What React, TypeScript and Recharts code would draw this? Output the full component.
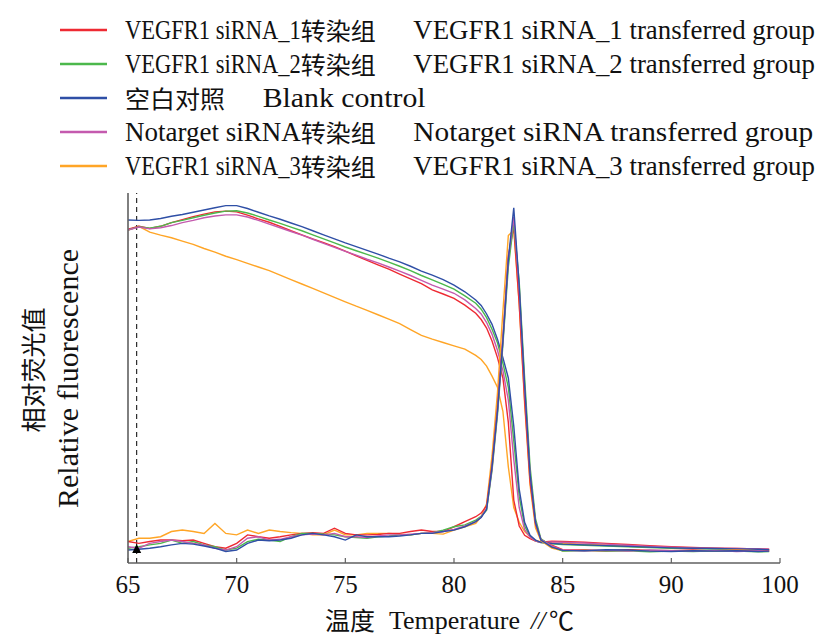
import React from "react";
import {
  LineChart,
  Line,
  XAxis,
  YAxis,
  Legend,
  ReferenceLine,
  ReferenceDot,
} from "recharts";

// temperature grid (°C)
const temperatures = [
  65, 65.5, 66, 66.5, 67, 67.5, 68, 68.5, 69, 69.5, 70, 70.5, 71, 71.5, 72, 72.5,
  73, 73.5, 74, 74.5, 75, 75.5, 76, 76.5, 77, 77.5, 78, 78.5, 79, 79.5, 80, 80.5, 81,
  81.25, 81.5, 81.75, 82, 82.25, 82.5, 82.75, 83, 83.25, 83.5, 83.75, 84,
  84.5, 85, 86, 87, 88, 89, 90, 91, 92, 93, 94, 94.5,
];

// melt curves (relative fluorescence)
const redMelt = [
  90.2, 91.0, 90.4, 91.0, 92.0, 92.8, 93.6, 94.3, 94.9, 95.1, 94.9, 94.0, 93.0, 92.1, 91.0, 89.8,
  88.7, 87.6, 86.6, 85.5, 84.3, 83.0, 81.8, 80.6, 79.4, 78.1, 76.8, 75.5, 73.8, 72.7, 71.5, 69.7, 67.5,
  65.8, 63.5, 60.0, 55.5, 50, 38, 17, 10, 7.5, 6.6, 5.9, 5.6,
  5.9, 5.8, 5.6, 5.3, 5.0, 4.7, 4.4, 4.2, 4.0, 3.9, 3.8, 3.7,
];
const greenMelt = [
  90.0, 90.9, 90.5, 91.0, 92.0, 92.6, 93.3, 94.0, 94.6, 95.1, 95.2, 94.6, 93.7, 92.7, 91.8, 90.8,
  89.8, 88.7, 87.6, 86.5, 85.4, 84.4, 83.4, 82.4, 81.3, 80.2, 79.0, 77.7, 76.5, 75.3, 74.0, 72.2, 70.2,
  68.6, 66.3, 63.2, 59.5, 54, 47.5, 33, 18, 10, 7.2, 6.0, 5.5,
  5.2, 5.0, 4.8, 4.6, 4.4, 4.2, 4.0, 3.9, 3.8, 3.7, 3.6, 3.5,
];
const blueMelt = [
  92.7, 92.6, 92.7, 93.1, 93.7, 94.2, 94.8, 95.4, 96.0, 96.6, 96.6, 95.8, 94.8, 93.8, 92.9, 91.9,
  90.9, 89.8, 88.7, 87.6, 86.5, 85.5, 84.5, 83.5, 82.4, 81.4, 80.2, 78.9, 77.8, 76.6, 75.1, 73.3, 71.1,
  69.6, 67.3, 64.5, 60.5, 55.5, 50, 37, 20, 11, 7.5, 6.2, 5.6,
  5.3, 5.1, 4.9, 4.7, 4.5, 4.3, 4.1, 4.0, 3.9, 3.8, 3.7, 3.6,
];
const pinkMelt = [
  90.0, 90.8, 90.3, 90.6, 91.2, 92.0, 92.6, 93.3, 93.8, 94.1, 94.1, 93.5, 92.6, 91.6, 90.6, 89.6,
  88.6, 87.5, 86.4, 85.3, 84.2, 83.2, 82.1, 81.1, 80.0, 78.9, 77.7, 76.4, 75.1, 74.0, 72.9, 71.1, 68.8,
  67.3, 65.0, 61.8, 57.5, 52, 44, 28, 15, 9, 7.0, 6.0, 5.5,
  5.7, 5.6, 5.4, 5.1, 4.8, 4.5, 4.3, 4.1, 4.0, 3.9, 3.8, 3.7,
];
const orangeMelt = [
  90.0, 91.0, 89.4, 88.6, 87.9, 87.0, 86.1, 85.0, 84.0, 82.9, 82.0, 81.0, 80.0, 79.0, 77.8, 76.6,
  75.4, 74.2, 73.0, 71.8, 70.6, 69.4, 68.3, 67.1, 65.9, 64.7, 63.1, 61.5, 60.5, 59.6, 58.7, 57.8, 56.1,
  55.0, 53.2, 50.5, 47.5, 41, 26, 15, 11, 8.5, 7.1, 6.2, 5.7,
  5.5, 5.3, 5.1, 4.9, 4.6, 4.4, 4.2, 4.0, 3.9, 3.8, 3.7, 3.6,
];

// melt peaks (-dF/dT, same scale)
const redDeriv = [
  5.8, 5.3, 5.8, 6.2, 6.2, 6.0, 6.2, 5.3, 4.4, 4.0, 5.3, 7.6, 7.1, 6.7, 7.1, 7.6,
  8.0, 8.2, 8.0, 9.4, 8.0, 7.6, 7.6, 7.7, 8.0, 8.0, 8.5, 8.9, 8.5, 8.5, 9.8, 11.2, 12.5,
  13.5, 15.5, 26.5, 42, 61, 83, 91, 70, 44, 22, 10.5, 6.4,
  4.8, 3.6, 3.5, 3.3, 3.6, 3.4, 3.3, 3.5, 3.2, 3.4, 3.2, 3.3,
];
const greenDeriv = [
  4.0, 4.4, 4.9, 5.3, 6.2, 5.3, 5.8, 4.9, 4.4, 3.5, 4.0, 5.8, 6.4, 6.2, 5.8, 7.1,
  8.0, 8.0, 7.8, 7.6, 7.1, 6.9, 6.7, 7.1, 7.3, 7.6, 7.6, 8.0, 8.2, 8.9, 9.8, 10.3, 11.6,
  12.6, 14.3, 25, 40, 59, 80, 92, 76, 50, 26, 12, 6.5,
  4.5, 3.2, 3.4, 3.2, 3.3, 3.0, 3.2, 3.1, 3.3, 3.2, 3.0, 3.1,
];
const blueDeriv = [
  3.5, 3.7, 4.0, 4.4, 4.9, 5.3, 5.1, 4.6, 4.0, 3.1, 3.5, 5.3, 6.2, 6.0, 6.2, 6.7,
  7.6, 8.0, 7.6, 7.1, 6.2, 7.6, 7.1, 7.1, 7.1, 7.3, 7.6, 8.0, 8.0, 8.5, 8.9, 9.8, 11.2,
  12.3, 14.5, 26, 41, 60, 82, 96, 75, 48, 24, 11, 6.2,
  4.3, 3.4, 3.3, 3.6, 3.5, 3.2, 3.1, 3.3, 3.2, 3.3, 3.1, 3.2,
];
const pinkDeriv = [
  4.4, 4.0, 5.3, 5.8, 6.2, 5.8, 5.3, 4.9, 4.0, 3.5, 4.4, 6.7, 7.1, 6.2, 6.4, 7.1,
  7.6, 7.8, 7.6, 8.0, 7.1, 7.1, 6.9, 7.3, 7.6, 7.6, 7.8, 8.0, 8.2, 8.5, 9.1, 10.0, 11.2,
  12.4, 14.8, 25.5, 41, 60, 82, 93.5, 74, 47, 24, 11, 6.3,
  4.6, 3.5, 3.3, 3.4, 3.2, 3.5, 3.3, 3.2, 3.4, 3.1, 3.3, 3.2,
];
const orangeDeriv = [
  5.8, 6.7, 6.7, 7.1, 8.5, 8.9, 8.5, 8.0, 10.7, 8.0, 7.6, 8.9, 8.0, 8.9, 8.5, 8.2,
  8.0, 7.6, 7.6, 8.9, 7.6, 7.6, 8.0, 8.0, 8.0, 7.8, 7.6, 8.0, 8.0, 7.8, 8.9, 9.8, 10.7,
  12.5, 16, 29, 46, 68, 88.5, 90, 70, 43, 21, 9.5, 6,
  4.0, 3.3, 3.4, 3.2, 3.5, 3.3, 3.4, 3.2, 3.3, 3.5, 3.3, 3.2,
];

// axis ticks as printed on the figure (last one reads "100")
const tickValues = [65, 70, 75, 80, 85, 90, 95];
const tickLabels = ["65", "70", "75", "80", "85", "90", "100"];

const legendNames = [
  "VEGFR1 siRNA_1转染组   VEGFR1 siRNA_1 transferred group",
  "VEGFR1 siRNA_2转染组   VEGFR1 siRNA_2 transferred group",
  "空白对照   Blank control",
  "Notarget siRNA转染组   Notarget siRNA transferred group",
  "VEGFR1 siRNA_3转染组   VEGFR1 siRNA_3 transferred group",
];
const legendColors = ["#ee2a33", "#4cb84c", "#2f4fa6", "#c45aae", "#ffa526"];

const markerTemp = 65.4;

const chartData = temperatures.map((t, i) => ({
  t,
  redMelt: redMelt[i],
  redDeriv: redDeriv[i],
  greenMelt: greenMelt[i],
  greenDeriv: greenDeriv[i],
  blueMelt: blueMelt[i],
  blueDeriv: blueDeriv[i],
  pinkMelt: pinkMelt[i],
  pinkDeriv: pinkDeriv[i],
  orangeMelt: orangeMelt[i],
  orangeDeriv: orangeDeriv[i],
}));

// draw order: orange under, blue on top
const series = [
  { key: "orange", color: legendColors[4] },
  { key: "red", color: legendColors[0] },
  { key: "green", color: legendColors[1] },
  { key: "pink", color: legendColors[3] },
  { key: "blue", color: legendColors[2] },
];

const SERIF = '"Liberation Serif", "Times New Roman", serif';
const CJK = '"Noto Sans CJK SC", sans-serif';
const AXIS_COLOR = "#606060";
const LATIN_CELL = 12.55; // the figure uses a fixed-pitch latin face
const CJK_CELL = 25;
const CJK_RE = /([\u4e00-\u9fff]+)/;

let measureCtx: CanvasRenderingContext2D | null = null;
const measure = (text: string, size: number, family: string) => {
  if (!measureCtx) measureCtx = document.createElement("canvas").getContext("2d");
  if (!measureCtx) return 0;
  measureCtx.font = `${size}px ${family}`;
  return measureCtx.measureText(text).width;
};

// lays text out in fixed cells (latin half width, CJK full width), squeezing glyphs to fit
const CellText = ({ text, x, y }: { text: string; x: number; y: number }) => {
  let cx = x;
  const parts = text.split(CJK_RE).filter((p) => p.length > 0);
  return (
    <g>
      {parts.map((part, i) => {
        const cjk = /[\u4e00-\u9fff]/.test(part);
        const lead = part.length - part.trimStart().length;
        const body = part.trim();
        cx += lead * LATIN_CELL;
        const w = body.length * (cjk ? CJK_CELL : LATIN_CELL);
        const family = cjk ? CJK : SERIF;
        const size = cjk ? 24 : 27;
        const natural = measure(body, size, family);
        const sx = natural > 0 ? w / natural : 1;
        const el = body ? (
          <text
            key={i}
            transform={`translate(${cx},${y}) scale(${sx.toFixed(3)},1)`}
            dominantBaseline="central"
            fontFamily={family}
            fontSize={size}
            fill="#111"
          >
            {body}
          </text>
        ) : null;
        cx += w + (part.length - lead - body.length) * LATIN_CELL;
        return el;
      })}
    </g>
  );
};

const renderLegend = () => (
  <svg width={838} height={185} style={{ display: "block" }}>
    {legendNames.map((name, i) => {
      const y = 30 + i * 34;
      return (
        <g key={name}>
          <line x1={60} x2={107} y1={y} y2={y} stroke={legendColors[i]} strokeWidth={2.5} />
          <CellText text={name} x={125} y={y} />
        </g>
      );
    })}
  </svg>
);

const TempTick = (props: any) => {
  const { x, y, payload } = props;
  const idx = tickValues.indexOf(payload.value);
  return (
    <g>
      <line x1={x} x2={x} y1={y} y2={y - 5} stroke={AXIS_COLOR} strokeWidth={1.2} />
      <text
        x={x}
        y={y + 21}
        textAnchor="middle"
        dominantBaseline="central"
        fontFamily={SERIF}
        fontSize={25}
        fill="#111"
      >
        {tickLabels[idx]}
      </text>
    </g>
  );
};

const XTitle = () => (
  <g fill="#111">
    <text x={325} y={619} dominantBaseline="central" fontFamily={CJK} fontSize={25}>
      温度
    </text>
    <text x={389} y={620} dominantBaseline="central" fontFamily={SERIF} fontSize={26}>
      Temperature
    </text>
    <text x={531} y={620} dominantBaseline="central" fontFamily={SERIF} fontSize={26} fontStyle="italic">
      //
    </text>
    <text x={549} y={619} dominantBaseline="central" fontFamily={CJK} fontSize={25}>
      ℃
    </text>
  </g>
);

const YTitle = () => (
  <g fill="#111">
    <text
      transform="translate(32, 370) rotate(-90)"
      textAnchor="middle"
      dominantBaseline="central"
      fontFamily={CJK}
      fontSize={25}
    >
      相对荧光值
    </text>
    <text
      transform="translate(67, 378.5) rotate(-90)"
      textAnchor="middle"
      dominantBaseline="central"
      fontFamily={SERIF}
      fontSize={30}
    >
      Relative fluorescence
    </text>
  </g>
);

const Triangle = (props: any) => {
  const { cx, cy } = props;
  return (
    <polygon
      points={`${cx},${cy - 5} ${cx - 4.5},${cy + 4} ${cx + 4.5},${cy + 4}`}
      fill="#000"
    />
  );
};

const App = () => {
  return (
    <div style={{ position: "absolute", left: 0, top: 0, background: "#fff" }}>
      <LineChart
        width={838}
        height={638}
        data={chartData}
        margin={{ top: 193, right: 58, bottom: 15, left: 120 }}
      >
        <XAxis
          dataKey="t"
          type="number"
          domain={[65, 95]}
          ticks={tickValues}
          allowDataOverflow
          tick={<TempTick />}
          tickLine={false}
          tickSize={0}
          tickMargin={0}
          height={60}
          axisLine={{ stroke: AXIS_COLOR, strokeWidth: 1.6 }}
          label={{ content: () => <XTitle /> }}
        />
        <YAxis
          type="number"
          domain={[0, 100]}
          width={8}
          tick={false}
          tickLine={false}
          axisLine={{ stroke: AXIS_COLOR, strokeWidth: 1.6 }}
          label={{ content: () => <YTitle /> }}
        />
        <Legend
          content={renderLegend}
          layout="vertical"
          align="center"
          verticalAlign="middle"
          wrapperStyle={{ top: 0, left: 0, width: 838, height: 185 }}
        />
        <ReferenceLine
          x={markerTemp}
          stroke="#000"
          strokeWidth={1}
          strokeDasharray="5 4"
        />
        {series.map((s) => (
          <Line
            key={s.key + "Melt"}
            type="linear"
            dataKey={s.key + "Melt"}
            stroke={s.color}
            strokeWidth={1.4}
            dot={false}
            isAnimationActive={false}
          />
        ))}
        {series.map((s) => (
          <Line
            key={s.key + "Deriv"}
            type="linear"
            dataKey={s.key + "Deriv"}
            stroke={s.color}
            strokeWidth={1.4}
            dot={false}
            isAnimationActive={false}
          />
        ))}
        <ReferenceDot x={markerTemp} y={3.8} r={5} shape={<Triangle />} />
      </LineChart>
    </div>
  );
};

export default App;
